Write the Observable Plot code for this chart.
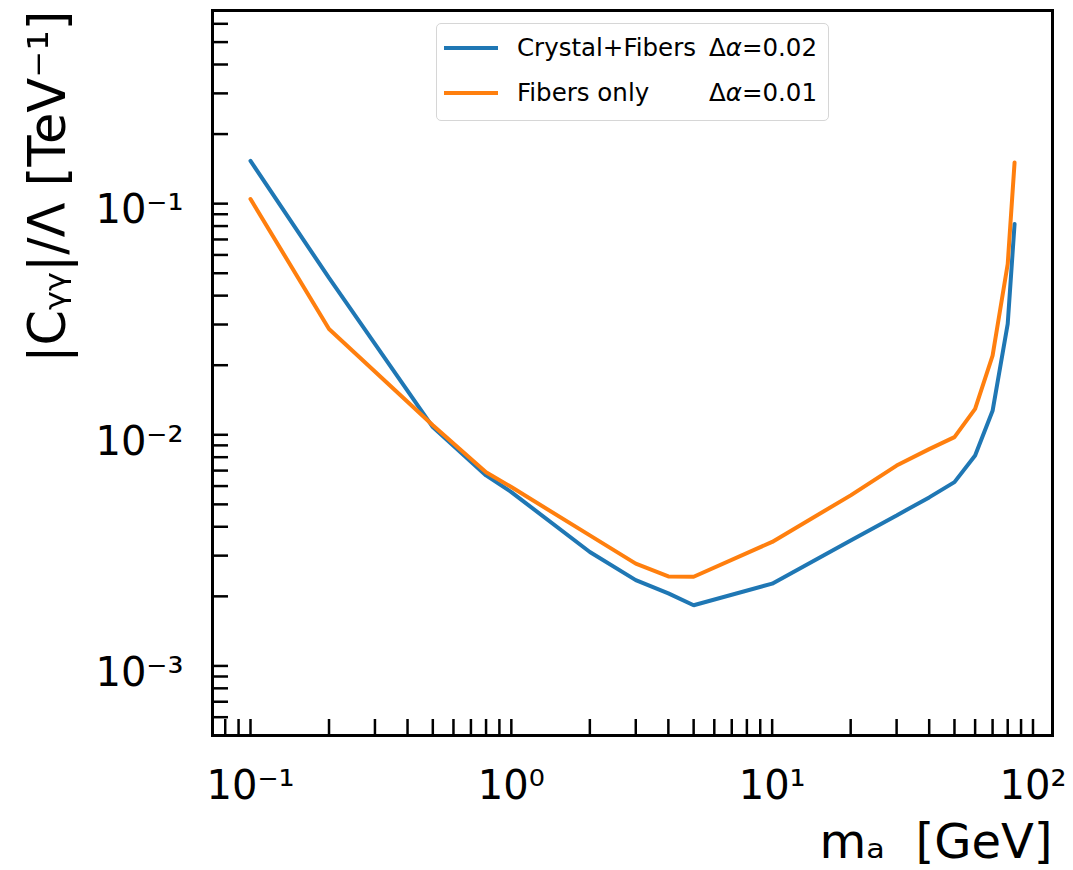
<!DOCTYPE html>
<html>
<head>
<meta charset="utf-8">
<script src="https://cdn.jsdelivr.net/npm/d3@7"></script>
<script src="https://cdn.jsdelivr.net/npm/@observablehq/plot@0.6"></script>
<style>
  html, body { margin: 0; padding: 0; background: #fff; overflow: hidden; }
  #wrap { position: relative; width: 1073px; height: 870px; }
  #legend {
    position: absolute; left: 436px; top: 23px; width: 393px; height: 98px;
    box-sizing: border-box; border: 1px solid #d6d6d6; border-radius: 5px;
    background: rgba(255,255,255,0.85);
    font-family: "DejaVu Sans", sans-serif; font-size: 24.5px; color: #000;
  }
  #legend .row { position: absolute; left: 0; height: 26px; line-height: 26px; white-space: nowrap; }
  #legend .sw { position: absolute; left: 7px; top: 11px; width: 54px; height: 4px; }
  #legend .lab { position: absolute; left: 80px; top: 0; }
  #legend .par { position: absolute; left: 272px; top: 0; }
</style>
</head>
<body>
<div id="wrap"></div>
<script>
// ---- data ----
const massGeV       = [0.1, 0.2, 0.5, 0.8, 1, 2, 3, 4, 5, 10, 20, 30, 40, 50, 60, 70, 80, 85];
const crystalFibers = [0.153, 0.0477, 0.0108, 0.00667, 0.00565, 0.00311, 0.00235, 0.00206, 0.00183, 0.00227, 0.00349, 0.00448, 0.00536, 0.00624, 0.00814, 0.0127, 0.0302, 0.0817];
const fibersOnly    = [0.1047, 0.0287, 0.0110, 0.00689, 0.00594, 0.00367, 0.00277, 0.00244, 0.00243, 0.00344, 0.00547, 0.00736, 0.00867, 0.00977, 0.01295, 0.0220, 0.0548, 0.1507];
const seriesNames   = ["Crystal+Fibers", "Fibers only"];
const seriesParams  = ["Δα=0.02", "Δα=0.01"];
const seriesColors  = ["#1f77b4", "#ff7f0e"];
const xMajorTicks   = [0.1, 1, 10, 100];
const xTickLabels   = ["10⁻¹", "10⁰", "10¹", "10²"];
const yMajorTicks   = [0.001, 0.01, 0.1];
const yTickLabels   = ["10⁻³", "10⁻²", "10⁻¹"];
const xDomain       = [0.0715, 118.8];
const yDomain       = [5e-4, 0.685];
const xLabel        = "mₐ  [GeV]";
const yLabel        = "|Cᵧᵧ|/Λ [TeV⁻¹]";

const rows = [];
seriesNames.forEach((s, k) => {
  const vals = k === 0 ? crystalFibers : fibersOnly;
  massGeV.forEach((m, i) => rows.push({m, v: vals[i], s}));
});

const xAll = d3.scaleLog().domain(xDomain).ticks();
const yAll = d3.scaleLog().domain(yDomain).ticks();

const chart = Plot.plot({
  width: 1073,
  height: 870,
  marginLeft: 212,
  marginRight: 21,
  marginTop: 10,
  marginBottom: 135,
  style: {fontFamily: "DejaVu Sans", background: "white", color: "black", overflow: "visible"},
  x: {type: "log", domain: xDomain},
  y: {type: "log", domain: yDomain},
  color: {domain: seriesNames, range: seriesColors},
  marks: [
    Plot.axisX({ticks: xAll, tickSize: -16, strokeWidth: 2.5, tickFormat: () => "", label: null}),
    Plot.axisY({ticks: yAll, tickSize: -16, strokeWidth: 2.5, tickFormat: () => "", label: null}),
    Plot.axisX({ticks: xMajorTicks, tickSize: 0, tickPadding: 35, fontSize: 40,
      tickFormat: d => xTickLabels[xMajorTicks.indexOf(d)], label: null}),
    Plot.axisY({ticks: yMajorTicks, tickSize: 0, tickPadding: 29, fontSize: 40, dy: 7,
      tickFormat: d => yTickLabels[yMajorTicks.indexOf(d)], label: null}),
    Plot.text([xLabel], {frameAnchor: "bottom-right", textAnchor: "end", lineAnchor: "top",
      dy: 88, fontSize: 48}),
    Plot.text([yLabel], {frameAnchor: "top-left", rotate: -90, textAnchor: "end", lineAnchor: "top",
      dx: -184, fontSize: 51}),
    Plot.line(rows, {x: "m", y: "v", stroke: "s", strokeWidth: 4, strokeLinejoin: "miter"}),
    Plot.frame({stroke: "black", strokeWidth: 3})
  ]
});

const wrap = document.getElementById("wrap");
wrap.appendChild(chart);

// legend overlay (inside the axes, upper centre)
const legend = document.createElement("div");
legend.id = "legend";
seriesNames.forEach((s, k) => {
  const row = document.createElement("div");
  row.className = "row";
  row.style.top = (k === 0 ? 11 : 56) + "px";
  row.style.width = "390px";
  const sw = document.createElement("div");
  sw.className = "sw"; sw.style.background = seriesColors[k];
  const lab = document.createElement("span");
  lab.className = "lab"; lab.textContent = s;
  const par = document.createElement("span");
  par.className = "par";
  const [a, b] = seriesParams[k].split("α");
  par.innerHTML = a + "<i>α</i>" + b;
  row.append(sw, lab, par);
  legend.appendChild(row);
});
wrap.appendChild(legend);
</script>
</body>
</html>
